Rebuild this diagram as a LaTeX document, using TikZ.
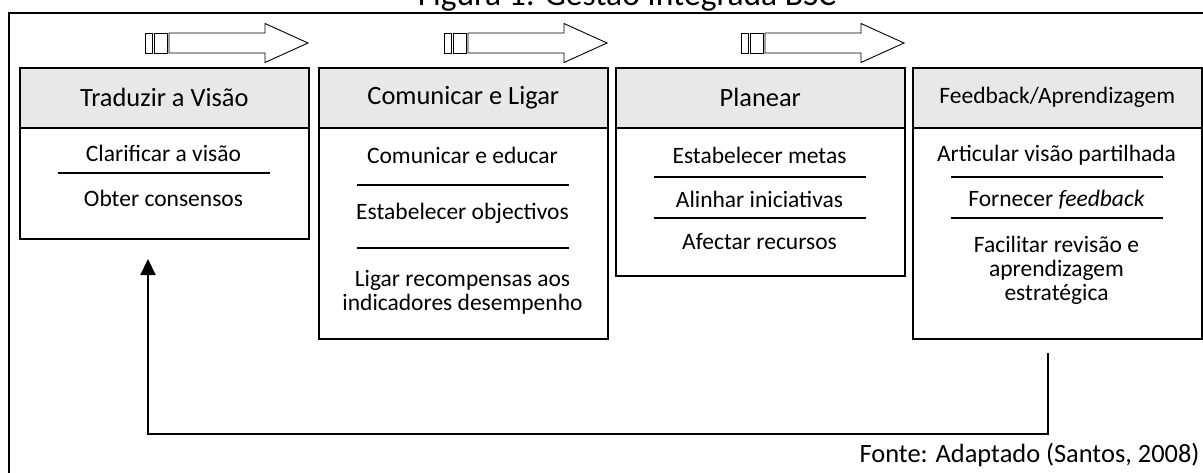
\documentclass[tikz,border=0pt]{standalone}
\usepackage{fontspec}
\setmainfont{Carlito}
\usetikzlibrary{arrows.meta}

\begin{document}
\begin{tikzpicture}[x=1pt,y=-1pt]
\tikzstyle{head} = [rectangle, draw, line width=1.6pt, fill=gray!18,
minimum width=289pt, minimum height=60pt, anchor=north west, inner sep=0pt,
font=\fontsize{26.4}{30}\selectfont]
\tikzstyle{body} = [rectangle, draw, line width=1.6pt, minimum width=289pt,
anchor=north west, inner sep=0pt]
\tikzstyle{item} = [align=center, inner sep=0pt, font=\fontsize{23.5}{24}\selectfont]
\tikzstyle{sep} = [draw, line width=1.5pt]
\tikzstyle{blockarrow} = [draw, line width=0.9pt, fill=white]
\tikzstyle{fbline} = [draw, line width=2.2pt, -{Triangle[width=15pt,length=16pt]}]
\useasboundingbox (0,0) rectangle (1203,472);

% frame and title
\draw[line width=1.6pt] (9,480) -- (9,12.7) -- (1210,12.7);
\node[anchor=base, font=\fontsize{33.5}{38}\selectfont] (titulo) at (627,5) {Figura 1: Gestão Integrada BSC};

% arrows on top
\foreach \t in {308,607,904} {
\draw[blockarrow] (\t-163,33) rectangle (\t-156,53);
\draw[blockarrow] (\t-154,33) rectangle (\t-141,53);
\draw[blockarrow] (\t-139,33) -- (\t-43,33) -- (\t-43,23.5) -- (\t,43)
  -- (\t-43,62.5) -- (\t-43,53) -- (\t-139,53) -- cycle;
}

% headers
\node[head] (head1) at (19,67) {Traduzir a Visão};
\node[head] (head2) at (318,67) {Comunicar e Ligar};
\node[head] (head3) at (615,67) {Planear};
\node[head, font=\fontsize{23.5}{28}\selectfont] (head4) at (912,67) {Feedback/Aprendizagem};

% bodies
\node[body, minimum height=111pt] (body1) at (19,127) {};
\node[body, minimum height=211pt] (body2) at (318,127) {};
\node[body, minimum height=148pt] (body3) at (615,127) {};
\node[body, minimum height=211pt] (body4) at (912,127) {};

% row items
\node[item] (clarificar) at (163.5,153) {Clarificar a visão};
\node[item] (consensos) at (163.5,198) {Obter consensos};

\node[item] (educar) at (462.5,155) {Comunicar e educar};
\node[item] (objectivos) at (462.5,213) {Estabelecer objectivos};
\node[item] (recompensas) at (462.5,292) {Ligar recompensas aos\\indicadores desempenho};

\node[item] (metas) at (759.5,155) {Estabelecer metas};
\node[item] (iniciativas) at (759.5,199) {Alinhar iniciativas};
\node[item] (recursos) at (759.5,242) {Afectar recursos};

\node[item] (partilhada) at (1056.5,155) {Articular visão partilhada};
\node[item] (fornecer) at (1056.5,200) {Fornecer \textit{feedback}};
\node[item] (facilitar) at (1056.5,270) {Facilitar revisão e\\aprendizagem\\estratégica};

% separators
\foreach \bx/\sy in {163.5/173, 462.5/185, 462.5/248, 759.5/177, 759.5/218, 1056.5/177, 1056.5/218}
\draw[sep] (\bx-106,\sy) -- (\bx+106,\sy);

% feedback loop
\coordinate (fb_from) at (1048,353);
\coordinate (fb_low) at (148,434);
\coordinate (fb_to) at (148,259);
\path[fbline] (fb_from) |- (fb_low) -- (fb_to);

\node[anchor=base east, font=\fontsize{26.4}{30}\selectfont] (fonte) at (1203,462) {Fonte: Adaptado (Santos, 2008)};

\end{tikzpicture}
\end{document}
